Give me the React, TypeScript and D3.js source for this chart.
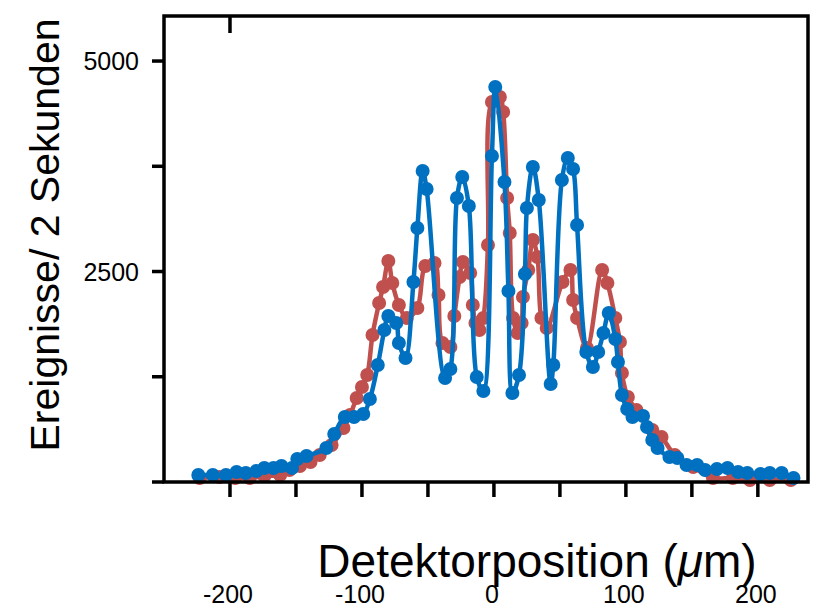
import React from "react";
import * as d3 from "d3";

const blueX = [-224,-213,-203,-195,-188,-180,-174,-167,-161,-153,-149,-142,-127,-121,-113,-106,-99,-94,-88,-83,-80,-74,-72,-67,-61,-58,-54,-51,-37,-33,-28,-24,-19,-13,-8,-1.5,1,8,11,14,19,23.5,25,29.5,34,43,45,51.5,56,60,63,70,75,79,83,87,92,94,97,101,105,113,116,120,124,133,139,146,154,160,169,177,185,192,202,209,218,227];
const blueY = [83,83,83,119,107,131,166,166,190,166,273,309,404,570,772,772,808,986,1390,1805,1972,1888,1651,1473,2375,3017,3694,3480,1235,1342,3373,3622,3278,1247,1081,3872,4691,3563,2268,1057,1271,2470,3254,3741,3349,1164,1390,3587,3848,3717,3052,1544,1366,1544,1770,2007,1698,1425,1033,867,772,784,653,499,404,297,285,202,202,143,154,166,119,107,95,107,107,48];

const redX = [-223,-208,-196,-185,-174,-162,-155,-147,-139,-132,-123,-114,-109,-104,-100,-96,-92,-87,-84,-80,-77,-72,-66,-58,-52,-45,-42,-39,-33,-30,-26,-23.5,-18,-16,-14,-11,-8,-4.5,-1.5,4.5,7,10,12,14.5,18,21,22,26,29.5,33,36,40,52,58,60,63,70.5,82,86,92,95.5,97,101.5,108,120,127,137,151,166,181,194,209,225];
const redY = [48,59,48,48,71,83,143,190,238,321,439,641,796,998,1128,1271,1746,2126,2316,2625,2363,2102,1948,2066,2565,2601,2221,1651,1603,1971,2435,2613,2482,2102,1888,1805,1948,2815,4513,4573,4394,3373,2957,1948,1770,1888,2197,2518,2874,2672,1948,1829,2375,2518,2161,1948,1591,2518,2363,1948,1663,1294,1009,855,618,534,321,178,48,48,24,24,24];

const xTicks = [-200,-150,-100,-50,0,50,100,150,200];
const xTickLabels = [-200,-100,0,100,200];
const yTicks = [0,1250,2500,3750,5000];
const yTickLabels = [2500,5000];
const topTicks = [-200];

const xLabel = "Detektorposition (";
const yLabel = "Ereignisse/ 2 Sekunden";

const W = 822, H = 611;
const FONT = "'Liberation Sans', Arial, sans-serif";

export default function App() {
  const left = 164, right = 808, top = 16, bottom = 482;
  const x = d3.scaleLinear().domain([-250, 238]).range([left, right]);
  const y = d3.scaleLinear().domain([0, 5535]).range([bottom, top]);
  const line = d3.line<[number, number]>()
    .x(d => x(d[0])).y(d => y(d[1]))
    .curve(d3.curveCatmullRom.alpha(0.5));
  const red: [number, number][] = redX.map((v, i) => [v, redY[i]]);
  const blue: [number, number][] = blueX.map((v, i) => [v, blueY[i]]);
  const redC = "#C0504D", blueC = "#0070C0";
  return (
    <svg width={W} height={H} style={{ position: "absolute", left: 0, top: 0, background: "#fff" }}>
      <rect x={0} y={0} width={W} height={H} fill="#fff" />
      <path d={line(red) || ""} fill="none" stroke={redC} strokeWidth={4.5} />
      {red.map((d, i) => <circle key={"r" + i} cx={x(d[0])} cy={y(d[1])} r={7} fill={redC} />)}
      <path d={line(blue) || ""} fill="none" stroke={blueC} strokeWidth={4.5} />
      {blue.map((d, i) => <circle key={"b" + i} cx={x(d[0])} cy={y(d[1])} r={7} fill={blueC} />)}
      <rect x={left} y={top} width={right - left} height={bottom - top} fill="none" stroke="#000" strokeWidth={3.5} />
      {xTicks.map(t => <line key={"xt" + t} x1={x(t)} x2={x(t)} y1={bottom} y2={bottom + 15} stroke="#000" strokeWidth={3.5} />)}
      {topTicks.map(t => <line key={"tt" + t} x1={x(t)} x2={x(t)} y1={top} y2={top + 17} stroke="#000" strokeWidth={3.5} />)}
      {yTicks.map(t => <line key={"yt" + t} x1={left - 12} x2={left} y1={y(t)} y2={y(t)} stroke="#000" strokeWidth={3.5} />)}
      {xTickLabels.map(t => (
        <text key={"xl" + t} x={x(t) - 2} y={603} textAnchor="middle" fontFamily={FONT} fontSize={25} fill="#000">{t}</text>
      ))}
      {yTickLabels.map(t => (
        <text key={"yl" + t} x={139} y={y(t) + 9} textAnchor="end" fontFamily={FONT} fontSize={25} fill="#000">{t}</text>
      ))}
      <text x={537} y={577} textAnchor="middle" fontFamily={FONT} fontSize={46} fill="#000">
        {xLabel}<tspan fontStyle="italic">μ</tspan>m)
      </text>
      <text transform={`translate(59,235) rotate(-90)`} textAnchor="middle" fontFamily={FONT} fontSize={41} fill="#000">{yLabel}</text>
    </svg>
  );
}
